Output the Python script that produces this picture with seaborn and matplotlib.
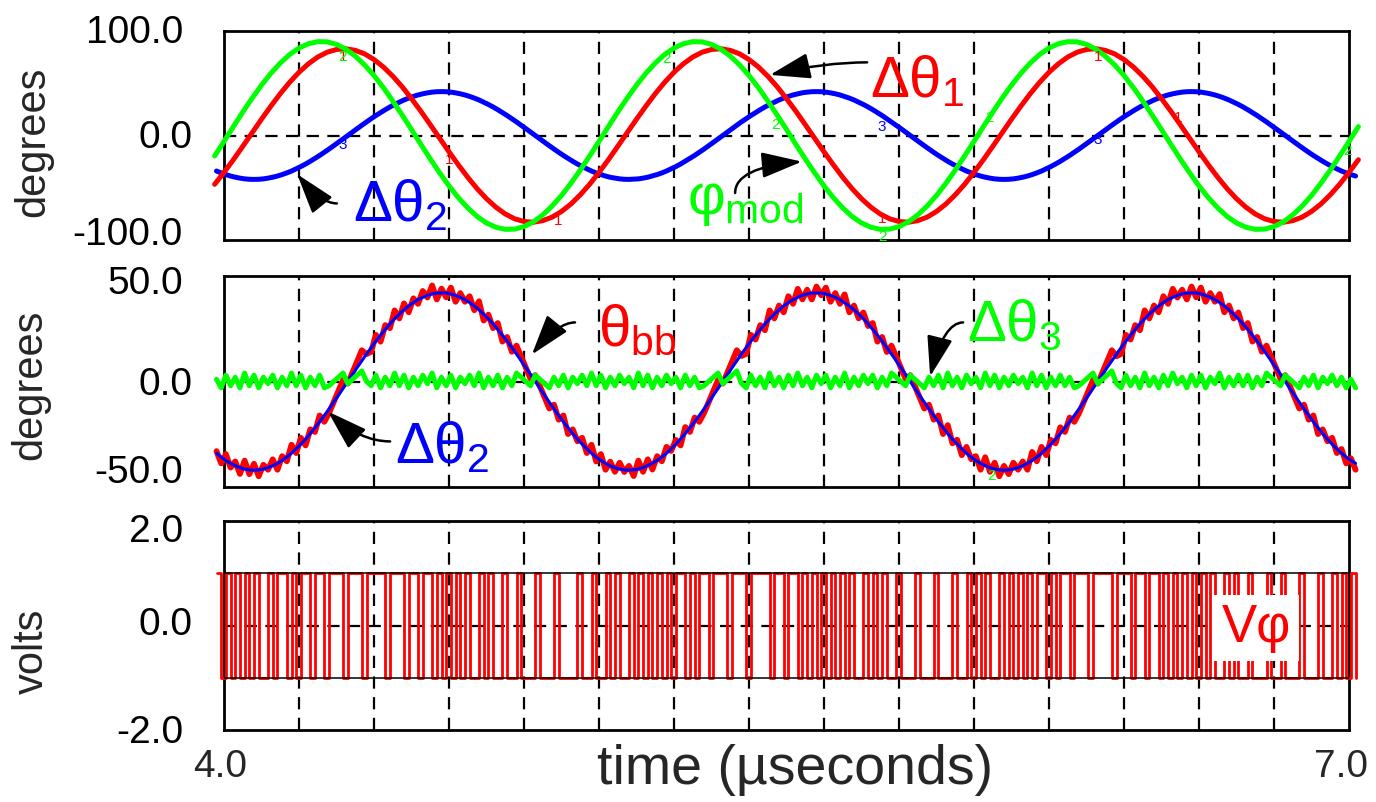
import numpy as np
import matplotlib
matplotlib.use("Agg")
import matplotlib.pyplot as plt
import seaborn as sns

sns.set_style("white")
plt.rcParams["font.family"] = ["Liberation Sans", "DejaVu Sans"]
plt.rcParams["mathtext.fontset"] = "custom"
plt.rcParams["mathtext.rm"] = "Liberation Sans"
plt.rcParams["mathtext.it"] = "Liberation Sans"
plt.rcParams["mathtext.bf"] = "Liberation Sans:bold"

RED = "#ff0000"
GREEN = "#00ff00"
BLUE = "#0000ff"

# ---------------------------------------------------------------- data
# sample times in microseconds
t_coarse = np.round(3.975 + 0.025 * np.arange(123), 4)
t_fine = np.round(3.98 + 0.0125 * np.arange(244), 4)

# phase modulation input (degrees), coarse grid
phi_mod = [
    -19.6, -5.7, 8.5, 22.4, 35.7, 48.2, 59.5, 69.3, 77.5, 83.7,
    87.8, 89.8, 89.6, 87.2, 82.6, 76.0, 67.5, 57.4, 45.8, 33.1,
    19.6, 5.7, -8.5, -22.4, -35.7, -48.2, -59.5, -69.3, -77.5, -83.7,
    -87.8, -89.8, -89.6, -87.2, -82.6, -76.0, -67.5, -57.4, -45.8, -33.1,
    -19.6, -5.7, 8.5, 22.4, 35.7, 48.2, 59.5, 69.3, 77.5, 83.7,
    87.8, 89.8, 89.6, 87.2, 82.6, 76.0, 67.5, 57.4, 45.8, 33.1,
    19.6, 5.7, -8.5, -22.4, -35.7, -48.2, -59.5, -69.3, -77.5, -83.7,
    -87.8, -89.8, -89.6, -87.2, -82.6, -76.0, -67.5, -57.4, -45.8, -33.1,
    -19.6, -5.7, 8.5, 22.4, 35.7, 48.2, 59.5, 69.3, 77.5, 83.7,
    87.8, 89.8, 89.6, 87.2, 82.6, 76.0, 67.5, 57.4, 45.8, 33.1,
    19.6, 5.7, -8.5, -22.4, -35.7, -48.2, -59.5, -69.3, -77.5, -83.7,
    -87.8, -89.8, -89.6, -87.2, -82.6, -76.0, -67.5, -57.4, -45.8, -33.1,
    -19.6, -5.7, 8.5,
]

# first-stage phase error (degrees), coarse grid
dtheta1 = [
    -46.7, -35.3, -23.2, -10.4, 2.6, 15.6, 28.1, 40.0, 50.9, 60.5,
    68.6, 75.1, 79.7, 82.3, 83.0, 81.5, 78.1, 72.7, 65.6, 56.8,
    46.7, 35.3, 23.2, 10.4, -2.6, -15.6, -28.1, -40.0, -50.9, -60.5,
    -68.6, -75.1, -79.7, -82.3, -83.0, -81.5, -78.1, -72.7, -65.6, -56.8,
    -46.7, -35.3, -23.2, -10.4, 2.6, 15.6, 28.1, 40.0, 50.9, 60.5,
    68.6, 75.1, 79.7, 82.3, 83.0, 81.5, 78.1, 72.7, 65.6, 56.8,
    46.7, 35.3, 23.2, 10.4, -2.6, -15.6, -28.1, -40.0, -50.9, -60.5,
    -68.6, -75.1, -79.7, -82.3, -83.0, -81.5, -78.1, -72.7, -65.6, -56.8,
    -46.7, -35.3, -23.2, -10.4, 2.6, 15.6, 28.1, 40.0, 50.9, 60.5,
    68.6, 75.1, 79.7, 82.3, 83.0, 81.5, 78.1, 72.7, 65.6, 56.8,
    46.7, 35.3, 23.2, 10.4, -2.6, -15.6, -28.1, -40.0, -50.9, -60.5,
    -68.6, -75.1, -79.7, -82.3, -83.0, -81.5, -78.1, -72.7, -65.6, -56.8,
    -46.7, -35.3, -23.2,
]

# second-stage phase (degrees), fine grid
dtheta2 = [
    -34.0, -35.8, -37.4, -38.8, -39.9, -40.8, -41.5, -41.9, -42.0, -41.9,
    -41.5, -40.8, -39.9, -38.8, -37.4, -35.8, -34.0, -31.9, -29.7, -27.3,
    -24.7, -21.9, -19.1, -16.1, -13.0, -9.8, -6.6, -3.3, 0.0, 3.3,
    6.6, 9.8, 13.0, 16.1, 19.1, 21.9, 24.7, 27.3, 29.7, 31.9,
    34.0, 35.8, 37.4, 38.8, 39.9, 40.8, 41.5, 41.9, 42.0, 41.9,
    41.5, 40.8, 39.9, 38.8, 37.4, 35.8, 34.0, 31.9, 29.7, 27.3,
    24.7, 21.9, 19.1, 16.1, 13.0, 9.8, 6.6, 3.3, 0.0, -3.3,
    -6.6, -9.8, -13.0, -16.1, -19.1, -21.9, -24.7, -27.3, -29.7, -31.9,
    -34.0, -35.9, -37.4, -38.8, -40.0, -40.8, -41.5, -41.9, -42.0, -41.8,
    -41.5, -40.8, -39.9, -38.7, -37.4, -35.8, -34.0, -31.9, -29.7, -27.3,
    -24.6, -21.9, -19.1, -16.1, -13.0, -9.8, -6.5, -3.3, 0.0, 3.3,
    6.6, 9.8, 13.1, 16.1, 19.1, 21.9, 24.7, 27.3, 29.7, 31.9,
    34.0, 35.8, 37.4, 38.8, 39.9, 40.9, 41.5, 41.9, 42.0, 41.9,
    41.5, 40.8, 39.9, 38.8, 37.3, 35.8, 34.0, 31.9, 29.7, 27.3,
    24.7, 21.9, 19.1, 16.0, 13.0, 9.8, 6.6, 3.3, 0.0, -3.3,
    -6.6, -9.8, -13.0, -16.1, -19.1, -21.9, -24.7, -27.3, -29.6, -31.9,
    -34.0, -35.8, -37.4, -38.8, -39.9, -40.8, -41.5, -41.9, -42.0, -41.9,
    -41.5, -40.8, -39.9, -38.8, -37.4, -35.8, -34.0, -31.9, -29.7, -27.3,
    -24.7, -21.9, -19.1, -16.1, -13.0, -9.8, -6.6, -3.3, 0.0, 3.3,
    6.6, 9.8, 13.0, 16.1, 19.1, 21.9, 24.7, 27.3, 29.7, 31.9,
    34.0, 35.8, 37.4, 38.8, 39.9, 40.8, 41.5, 41.9, 42.0, 41.9,
    41.5, 40.8, 39.9, 38.8, 37.4, 35.8, 34.0, 31.9, 29.7, 27.3,
    24.7, 21.9, 19.1, 16.1, 13.0, 9.8, 6.6, 3.3, 0.0, -3.3,
    -6.6, -9.8, -13.0, -16.1, -19.1, -21.9, -24.7, -27.3, -29.7, -31.9,
    -34.0, -35.8, -37.4, -38.8,
]

# residual phase error (degrees), fine grid
dtheta3 = [
    1, -3, 3, -2, 2, -3, 4, -2, 3, -3, 2, -1, 3, -3, 2, -2, 4, -2, 3, -3,
    2, -2, 3, -3, -2, 0, 2, 4, -1, 1, 3, 5, 0, -2, 3, -3, 2, -2, 4, -2,
    3, -3, 2, -2, 3, -1, 4, -3, 2, -2, 3, -3, 2, -1, 3, -2, 4, -3, 2, -2,
    3, -3, 2, -2, 4, 2, 0, -2, 3, 1, -1, -3, 2, -2, 3, -3, 2, -1, 3, -2,
    4, -2, 3, -3, 2, -2, 3, -1, 2, -3, 4, -2, 3, -3, 2, -2, 3, -1, 2, -3,
    3, -2, 2, -3, -2, 0, 2, 4, -1, 1, 3, 5, -1, -3, 3, -2, 2, -3, 4, -2,
    2, -3, 3, -2, 4, -2, 2, -3, 3, -1, 3, -3, 2, -2, 4, -3, 2, -2, 3, -1,
    3, -3, 2, -2, 4, 2, 0, -2, 3, 1, -1, -3, 2, -2, 3, -3, 4, -2, 2, -3,
    3, -1, 2, -3, 4, -2, 3, -3, 2, -2, 3, -1, 2, -3, 4, -2, 3, -3, 2, -2,
    3, -2, 2, -3, -2, 0, 2, 4, -1, 1, 3, 5, -1, -3, 3, -2, 2, -3, 4, -2,
    2, -3, 3, -2, 4, -1, 2, -3, 3, -2, 3, -3, 2, -1, 4, -3, 2, -2, 3, -2,
    3, -3, 2, -2, 4, 2, 0, -2, 3, 1, -1, -3, 2, -2, 3, -3, 2, -1, 3, -2,
    2, -3, 1, -3,
]

# bang-bang detector output, one symbol per fine sample
vphi_bits = [
    "10101010100101101011", "01101110111011110111", "01101101010101001010",
    "01001000100010000100", "10010100101010101011", "01011011101110111101",
    "10110101010101010010", "10100100010001000100", "10101001010101011010",
    "11011101111011101101", "10101010101010010100", "10001001000100010010",
    "1010",
]

# axis end labels per panel: (top, middle, bottom)
ylabels_top = ["100.0", "0.0", "-100.0"]
ylabels_mid = ["50.0", "0.0", "-50.0"]
ylabels_bot = ["2.0", "0.0", "-2.0"]

# small trace numbers printed along the curves (time, value, tag)
tags_top = [
    (4.317, 75, "1", RED), (4.317, 75, "2", GREEN), (4.317, -9, "3", BLUE),
    (4.600, -23, "1", RED), (4.890, -82, "1", RED), (5.180, 73, "2", GREEN),
    (5.470, 10, "2", GREEN), (5.755, 8, "3", BLUE), (5.755, -80, "1", RED),
    (5.755, -97, "2", GREEN), (6.040, 17, "2", GREEN), (6.330, -4, "3", BLUE),
    (6.330, 75, "1", RED), (6.544, 17, "1", RED), (6.995, -15, "2", GREEN),
]
tags_mid = [(6.048, -45, "2", GREEN)]

theta_bb = np.array(dtheta2) + np.array(dtheta3)
v_phi = np.where(np.array(list("".join(vphi_bits))) == "1", 1.0, -1.0)

# ---------------------------------------------------------------- figure
fig = plt.figure(figsize=(13.76, 8.02), dpi=100)
W, H = 1376.0, 802.0


def panel(top, bottom):
    return fig.add_axes([224 / W, 1 - bottom / H, 1125 / W, (bottom - top) / H])


ax1 = panel(31, 240)
ax2 = panel(276, 487)
ax3 = panel(521, 730)

DASH = (0, (5.5, 3.8))
grid_t = np.round(np.arange(4.2, 6.81, 0.2), 2)


def style(ax, lim, labels, label_rows):
    ax.set_xlim(4.0, 7.0)
    ax.set_ylim(-lim, lim)
    ax.set_xticks([])
    ax.set_yticks([])
    ax.set_xlabel("")
    ax.set_ylabel("")
    for s in ax.spines.values():
        s.set_visible(True)
        s.set_linewidth(2.0)
        s.set_color("black")
    for x in grid_t:
        ax.axvline(x, color="black", lw=1.6, ls=DASH, zorder=1)
    ax.axhline(0, color="black", lw=1.6, ls=DASH, zorder=1)
    # value labels sit just left of the frame; the zero label is set closer
    for txt, row, right in zip(labels, label_rows, (183, 193, 183)):
        fig.text(right / W, 1 - row / H, txt, ha="right", va="center",
                 fontsize=28, color="black")


style(ax1, 100, ylabels_top, (33, 138, 235))
style(ax2, 50, ylabels_mid, (284, 385, 473))
style(ax3, 2, ylabels_bot, (532, 625, 733))

# ---- top panel
sns.lineplot(x=t_fine, y=dtheta2, ax=ax1, color=BLUE, lw=3.6,
             estimator=None, sort=False, clip_on=False, zorder=3)
sns.lineplot(x=t_coarse, y=dtheta1, ax=ax1, color=RED, lw=3.6,
             estimator=None, sort=False, clip_on=False, zorder=4)
sns.lineplot(x=t_coarse, y=phi_mod, ax=ax1, color=GREEN, lw=3.6,
             estimator=None, sort=False, clip_on=False, zorder=5)

# ---- middle panel
sns.lineplot(x=t_fine, y=theta_bb, ax=ax2, color=RED, lw=4.2,
             estimator=None, sort=False, clip_on=False, zorder=3)
sns.lineplot(x=t_fine, y=dtheta2, ax=ax2, color=BLUE, lw=2.2,
             estimator=None, sort=False, clip_on=False, zorder=4)
sns.lineplot(x=t_fine, y=dtheta3, ax=ax2, color=GREEN, lw=3.6,
             estimator=None, sort=False, clip_on=False, zorder=5)

# ---- bottom panel
sns.lineplot(x=t_fine, y=v_phi, ax=ax3, color=RED, lw=2.0,
             drawstyle="steps-post", estimator=None, sort=False,
             clip_on=False, zorder=3)
for lvl in (1, -1):
    ax3.axhline(lvl, color="black", lw=1.1, zorder=4)

for ax, tags in ((ax1, tags_top), (ax2, tags_mid)):
    for tx, ty, s, c in tags:
        ax.text(tx, ty, s, color=c, fontsize=11, ha="center", va="center",
                zorder=6)

ARROW = dict(arrowstyle="-|>,head_length=1.0,head_width=0.32",
             mutation_scale=25, color="black", lw=1.8,
             shrinkA=0, shrinkB=0)


def pointer(ax, tail, tip, ang_a, ang_b):
    ax.annotate("", xy=tip, xytext=tail, zorder=7,
                arrowprops=dict(ARROW, connectionstyle=(
                    f"angle3,angleA={ang_a},angleB={ang_b}")))


# top panel call-outs
ax1.text(5.723, 37, r"$\Delta\theta_1$", color=RED, fontsize=42,
         ha="left", va="baseline", zorder=7)
pointer(ax1, (5.715, 70), (5.456, 58), 0, 13)
ax1.text(5.235, -75, r"$\varphi_{mod}$", color=GREEN, fontsize=42,
         ha="left", va="baseline", zorder=7)
pointer(ax1, (5.363, -55), (5.541, -25), 90, 5)
ax1.text(4.344, -82, r"$\Delta\theta_2$", color=BLUE, fontsize=42,
         ha="left", va="baseline", zorder=7)
pointer(ax1, (4.301, -65), (4.195, -37), 0, 129)

# middle panel call-outs
ax2.text(4.997, 16.6, r"$\theta_{bb}$", color=RED, fontsize=42,
         ha="left", va="baseline", zorder=7)
pointer(ax2, (4.936, 28), (4.821, 12.8), 0, 51)
ax2.text(5.981, 19, r"$\Delta\theta_3$", color=GREEN, fontsize=42,
         ha="left", va="baseline", zorder=7)
pointer(ax2, (5.971, 28), (5.883, 2.4), 0, 76)
ax2.text(4.456, -38.4, r"$\Delta\theta_2$", color=BLUE, fontsize=42,
         ha="left", va="baseline", zorder=7)
pointer(ax2, (4.443, -28.4), (4.277, -14.2), 0, 137)

# bottom panel label
ax3.text(6.752, -0.05, "Vφ", color=RED, fontsize=38, ha="center",
         va="center", zorder=8,
         bbox=dict(boxstyle="square,pad=0.15", facecolor="white",
                   edgecolor="none"))

# axis titles and end labels
fig.text(33 / W, 1 - 142 / H, "degrees", rotation=90, fontsize=30,
         ha="center", va="center")
fig.text(30 / W, 1 - 385 / H, "degrees", rotation=90, fontsize=30,
         ha="center", va="center")
fig.text(32 / W, 1 - 651 / H, "volts", rotation=90, fontsize=30,
         ha="center", va="center")
fig.text(220 / W, 1 - 767 / H, "4.0", fontsize=28, ha="center", va="center")
fig.text(1341 / W, 1 - 767 / H, "7.0", fontsize=28, ha="center", va="center")
fig.text(795 / W, 1 - 770 / H, "time (µseconds)", fontsize=40,
         ha="center", va="center")

fig.savefig("out.png", dpi=100)
